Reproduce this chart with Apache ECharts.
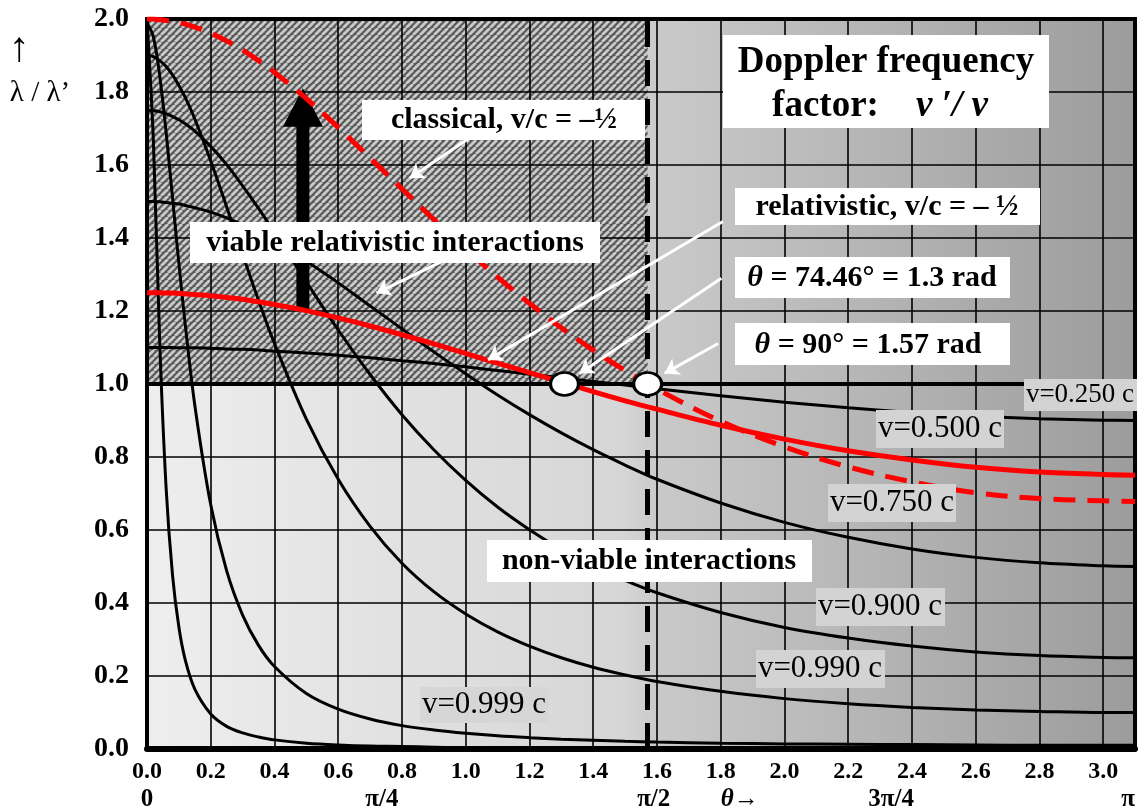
<!DOCTYPE html>
<html>
<head>
<meta charset="utf-8">
<script src="https://cdn.jsdelivr.net/npm/echarts@6.0.0/dist/echarts.min.js"></script>
<style>
html,body{margin:0;padding:0;background:#ffffff;}
#chart{width:1140px;height:812px;}
</style>
</head>
<body>
<div id="chart"></div>
<script>
// ---------------- DATA ----------------
const thetaSamples = [0, 0.02, 0.04, 0.06, 0.08, 0.1, 0.12, 0.15, 0.2, 0.25, 0.3, 0.35, 0.4, 0.5, 0.6, 0.7, 0.8, 0.9, 1.0, 1.1, 1.2, 1.3, 1.4, 1.5, 1.6, 1.8, 2.0, 2.2, 2.4, 2.6, 2.8, 3.0, 3.1];

const curveV0999 = [1.999, 1.666, 1.111, 0.715, 0.477, 0.334, 0.244, 0.164, 0.096, 0.062, 0.044, 0.033, 0.025, 0.016, 0.011, 0.008, 0.007, 0.005, 0.004, 0.004, 0.003, 0.003, 0.002, 0.002, 0.002, 0.002, 0.001, 0.001, 0.001, 0.001, 0.001, 0.001, 0.001];
const curveV0990 = [1.990, 1.951, 1.844, 1.689, 1.511, 1.331, 1.163, 0.942, 0.669, 0.488, 0.367, 0.284, 0.226, 0.152, 0.109, 0.082, 0.064, 0.052, 0.043, 0.036, 0.031, 0.027, 0.024, 0.021, 0.019, 0.016, 0.014, 0.013, 0.012, 0.011, 0.010, 0.010, 0.010];
const curveV0900 = [1.900, 1.897, 1.886, 1.870, 1.847, 1.818, 1.785, 1.726, 1.611, 1.485, 1.355, 1.229, 1.111, 0.904, 0.739, 0.610, 0.509, 0.431, 0.370, 0.321, 0.282, 0.250, 0.224, 0.203, 0.185, 0.158, 0.138, 0.124, 0.114, 0.107, 0.103, 0.100, 0.100];
const curveV0750 = [1.750, 1.749, 1.746, 1.741, 1.733, 1.724, 1.713, 1.693, 1.651, 1.601, 1.543, 1.481, 1.415, 1.280, 1.148, 1.026, 0.916, 0.820, 0.736, 0.663, 0.601, 0.547, 0.501, 0.462, 0.428, 0.374, 0.333, 0.304, 0.282, 0.266, 0.256, 0.251, 0.250];
const curveV0500 = [1.500, 1.500, 1.499, 1.497, 1.495, 1.493, 1.489, 1.483, 1.471, 1.455, 1.436, 1.414, 1.390, 1.336, 1.277, 1.214, 1.151, 1.088, 1.028, 0.970, 0.916, 0.866, 0.820, 0.778, 0.739, 0.674, 0.621, 0.580, 0.548, 0.525, 0.510, 0.502, 0.500];
const curveV0100 = [1.100, 1.100, 1.100, 1.100, 1.100, 1.099, 1.099, 1.099, 1.098, 1.096, 1.095, 1.093, 1.090, 1.085, 1.079, 1.072, 1.064, 1.056, 1.047, 1.037, 1.027, 1.017, 1.007, 0.997, 0.987, 0.968, 0.950, 0.935, 0.922, 0.912, 0.905, 0.901, 0.900];
const relativisticCurve = [1.250, 1.250, 1.250, 1.249, 1.249, 1.248, 1.247, 1.245, 1.242, 1.237, 1.232, 1.225, 1.218, 1.201, 1.181, 1.159, 1.135, 1.110, 1.084, 1.057, 1.031, 1.005, 0.979, 0.954, 0.931, 0.887, 0.849, 0.817, 0.792, 0.772, 0.759, 0.752, 0.750];
const classicalCurve = [2.000, 2.000, 1.998, 1.996, 1.994, 1.990, 1.986, 1.978, 1.961, 1.940, 1.915, 1.886, 1.854, 1.782, 1.703, 1.619, 1.535, 1.451, 1.370, 1.293, 1.221, 1.154, 1.093, 1.037, 0.986, 0.898, 0.828, 0.773, 0.732, 0.702, 0.686, 0.680, 0.678];

const crossingPoints = [[1.31, 1.0], [1.5708, 1.0]];
const thresholdValue = 1.0;
const rightAngle = 1.5708;
const bigArrow = [[0.489, 1.2, 1.705, 1.81]];   // theta, shaft start, head base, tip

// white pointer arrows: [from, to] in data units
const pointerArrows = [
  [[1.012, 1.674], [0.824, 1.564]],
  [[0.981, 1.359], [0.720, 1.249]],
  [[1.807, 1.445], [1.070, 1.066]],
  [[1.802, 1.290], [1.357, 1.029]],
  [[1.792, 1.111], [1.624, 1.029]]
];

const xMin = 0, xMax = 3.1, xStep = 0.2;
const yMin = 0, yMax = 2.0, yStep = 0.2;
const secondRowPositions = [0, 0.737, 1.59, 1.86, 2.335, 3.078];
const secondRowLabels = ['0', '{n|π}/4', '{n|π}/2', '{i|θ}→', '3{n|π}/4', '{n|π}'];

// ---------------- CHART ----------------
const SERIF = '"Liberation Serif", "Times New Roman", serif';

function zip(xs, ys) { return xs.map((x, i) => [x, ys[i]]); }

// hatch pattern ( "/" stripes )
const hatch = document.createElement('canvas');
hatch.width = 7; hatch.height = 7;
(function () {
  const c = hatch.getContext('2d');
  c.fillStyle = '#585858';
  c.fillRect(0, 0, 7, 7);
  c.strokeStyle = '#cacaca';
  c.lineWidth = 2.8;
  for (let k = -1; k <= 2; k++) {
    c.beginPath();
    c.moveTo(k * 7 - 7, 7);
    c.lineTo(k * 7, 0);
    c.stroke();
  }
})();

const chart = echarts.init(document.getElementById('chart'), null, { renderer: 'canvas' });

function curve(name, ys, color, width, dash, z) {
  return {
    name: name,
    type: 'line',
    data: zip(thetaSamples, ys),
    showSymbol: false,
    smooth: 0.35,
    z: z || 10,
    lineStyle: { color: color, width: width, type: dash || 'solid', cap: 'butt' },
    silent: true
  };
}

function box(x, y, w, h, fill) {
  return { type: 'rect', shape: { x: x, y: y, width: w, height: h }, style: { fill: fill }, z: 100, silent: true };
}
function txt(x, y, text, font, rich) {
  const st = { text: text, font: font, fill: '#000', align: 'center', verticalAlign: 'middle', textAlign: 'center', textVerticalAlign: 'middle' };
  if (rich) st.rich = rich;
  return { type: 'text', x: x, y: y, style: st, z: 101, silent: true };
}

const B30 = 'bold 30px ' + SERIF;
const R31 = '31px ' + SERIF;
const thetaRich = { t: { font: 'italic bold 30px ' + SERIF } };

const graphics = [
  txt(19, 50, '↑', '42px ' + SERIF),
  txt(40, 93, 'λ / λ’', '29px ' + SERIF),

  box(723, 35, 326, 93, '#ffffff'),
  txt(886, 62, 'Doppler frequency', 'bold 37px ' + SERIF),
  txt(880, 106, '{b|factor:}    {i|ν ′/ ν}', 'bold 37px ' + SERIF,
      { b: { font: 'bold 37px ' + SERIF }, i: { font: 'italic bold 37px ' + SERIF } }),

  box(362, 100, 283, 40, '#ffffff'),
  txt(504, 120, 'classical, v/c = –½', B30),
  box(190, 222, 410, 41, '#ffffff'),
  txt(395, 243, 'viable relativistic interactions', B30),
  box(735, 188, 305, 37, '#ffffff'),
  txt(887, 207, 'relativistic, v/c = – ½', B30),
  box(735, 257, 275, 41, '#ffffff'),
  txt(872, 278, '{t|θ} = 74.46° = 1.3 rad', B30, thetaRich),
  box(735, 323, 275, 42, '#ffffff'),
  txt(868, 345, '{t|θ} = 90° = 1.57 rad', B30, thetaRich),
  box(487, 540, 325, 42, '#ffffff'),
  txt(649, 561, 'non-viable interactions', B30),

  box(1024, 379, 113, 32, '#d3d3d3'),
  txt(1080, 395, 'v=0.250 c', '27px ' + SERIF),
  box(876, 410, 128, 38, '#d3d3d3'),
  txt(940, 429, 'v=0.500 c', R31),
  box(828, 484, 128, 38, '#d3d3d3'),
  txt(892, 503, 'v=0.750 c', R31),
  box(816, 588, 129, 38, '#d3d3d3'),
  txt(880, 607, 'v=0.900 c', R31),
  box(756, 650, 129, 38, '#d3d3d3'),
  txt(820, 669, 'v=0.990 c', R31),
  box(420, 687, 128, 36, '#d6d6d6'),
  txt(484, 705, 'v=0.999 c', R31)
];

const option = {
  animation: false,
  backgroundColor: '#ffffff',
  grid: { left: 147, right: 5, top: 19, bottom: 63, show: true, borderColor: '#000', borderWidth: 4, z: 5, backgroundColor: 'transparent' },
  xAxis: [{
    type: 'value', min: xMin, max: xMax, interval: xStep, z: 5,
    axisLine: { show: true, lineStyle: { color: '#000', width: 6 } },
    axisTick: { show: false },
    splitLine: { show: true, lineStyle: { color: '#000', width: 1.6 } },
    axisLabel: {
      show: true, margin: 11, showMaxLabel: false, color: '#000',
      fontFamily: SERIF, fontWeight: 'bold', fontSize: 24,
      formatter: v => v.toFixed(1)
    }
  }, {
    type: 'value', min: xMin, max: xMax, position: 'bottom', z: 5,
    axisLine: { show: false }, axisTick: { show: false }, splitLine: { show: false },
    axisLabel: {
      show: true, margin: 38, color: '#000', customValues: secondRowPositions,
      fontFamily: SERIF, fontWeight: 'bold', fontSize: 25,
      showMinLabel: true, showMaxLabel: true,
      formatter: function (v) {
        let best = 0, d = 1e9;
        secondRowPositions.forEach((p, i) => { if (Math.abs(p - v) < d) { d = Math.abs(p - v); best = i; } });
        return secondRowLabels[best];
      },
      rich: {
        n: { fontFamily: SERIF, fontWeight: 'bold', fontSize: 25 },
        i: { fontFamily: SERIF, fontWeight: 'bold', fontStyle: 'italic', fontSize: 25 }
      }
    }
  }],
  yAxis: {
    type: 'value', min: yMin, max: yMax, interval: yStep, z: 5,
    axisLine: { show: true, lineStyle: { color: '#000', width: 4 } },
    axisTick: { show: false },
    splitLine: { show: true, lineStyle: { color: '#000', width: 1.6 } },
    axisLabel: {
      margin: 18, color: '#000', fontFamily: SERIF, fontWeight: 'bold', fontSize: 28,
      formatter: v => v.toFixed(1)
    }
  },
  graphic: { elements: graphics },
  series: [
    {
      name: 'background', type: 'line', z: 0, zlevel: 0, silent: true,
      data: [[xMin, yMin]], showSymbol: false, lineStyle: { opacity: 0 },
      markArea: {
        silent: true, z: 0,
        data: [
          [{ coord: [xMin, yMin], itemStyle: { color: new echarts.graphic.LinearGradient(0, 0, 1, 0, [
              { offset: 0, color: '#eeeeee' }, { offset: 0.48, color: '#d6d6d6' },
              { offset: 0.52, color: '#c9c9c9' }, { offset: 1, color: '#9c9c9c' }]) } },
           { coord: [xMax, yMax] }],
          [{ coord: [xMin, thresholdValue], itemStyle: { color: { image: hatch, repeat: 'repeat' } } },
           { coord: [rightAngle, yMax] }]
        ]
      }
    },
    curve('v=0.999 c', curveV0999, '#000', 3),
    curve('v=0.990 c', curveV0990, '#000', 3),
    curve('v=0.900 c', curveV0900, '#000', 3),
    curve('v=0.750 c', curveV0750, '#000', 3),
    curve('v=0.500 c', curveV0500, '#000', 3),
    curve('v=0.100 c', curveV0100, '#000', 3),
    {
      name: 'guides', type: 'line', z: 11, silent: true,
      data: [[xMin, yMin]], showSymbol: false, lineStyle: { opacity: 0 },
      markLine: {
        silent: true, symbol: ['none', 'none'], label: { show: false },
        data: [
          { yAxis: thresholdValue, lineStyle: { color: '#000', width: 4, type: 'solid' } },
          { xAxis: rightAngle, lineStyle: { color: '#000', width: 5, type: [26, 13] } }
        ]
      }
    },
    curve('relativistic', relativisticCurve, '#ff0000', 5, 'solid', 12),
    curve('classical', classicalCurve, '#ff0000', 5, [22, 12], 12),
    {
      name: 'bigArrow', type: 'custom', z: 12, silent: true,
      data: bigArrow,
      encode: { x: 0, y: [1, 3] },
      renderItem: function (params, api) {
        const x = api.value(0);
        const p0 = api.coord([x, api.value(1)]);
        const pb = api.coord([x, api.value(2)]);
        const pt = api.coord([x, api.value(3)]);
        const sw = 6.5, hw = 20;
        return {
          type: 'polygon',
          shape: { points: [[p0[0] - sw, p0[1]], [pb[0] - sw, pb[1]], [pb[0] - hw, pb[1]], [pt[0], pt[1]],
                            [pb[0] + hw, pb[1]], [pb[0] + sw, pb[1]], [p0[0] + sw, p0[1]]] },
          style: { fill: '#000' }
        };
      }
    },
    {
      name: 'pointers', type: 'lines', coordinateSystem: 'cartesian2d', z: 13, silent: true,
      symbol: ['none', 'arrow'], symbolSize: 14,
      lineStyle: { color: '#ffffff', width: 3, opacity: 1, curveness: 0 },
      data: pointerArrows.map(a => ({ coords: a }))
    },
    {
      name: 'crossings', type: 'scatter', z: 14, silent: true,
      data: crossingPoints, symbol: 'circle', symbolSize: [28, 23],
      itemStyle: { color: '#ffffff', borderColor: '#000', borderWidth: 3, opacity: 1 }
    }
  ]
};

chart.setOption(option);
</script>
</body>
</html>
